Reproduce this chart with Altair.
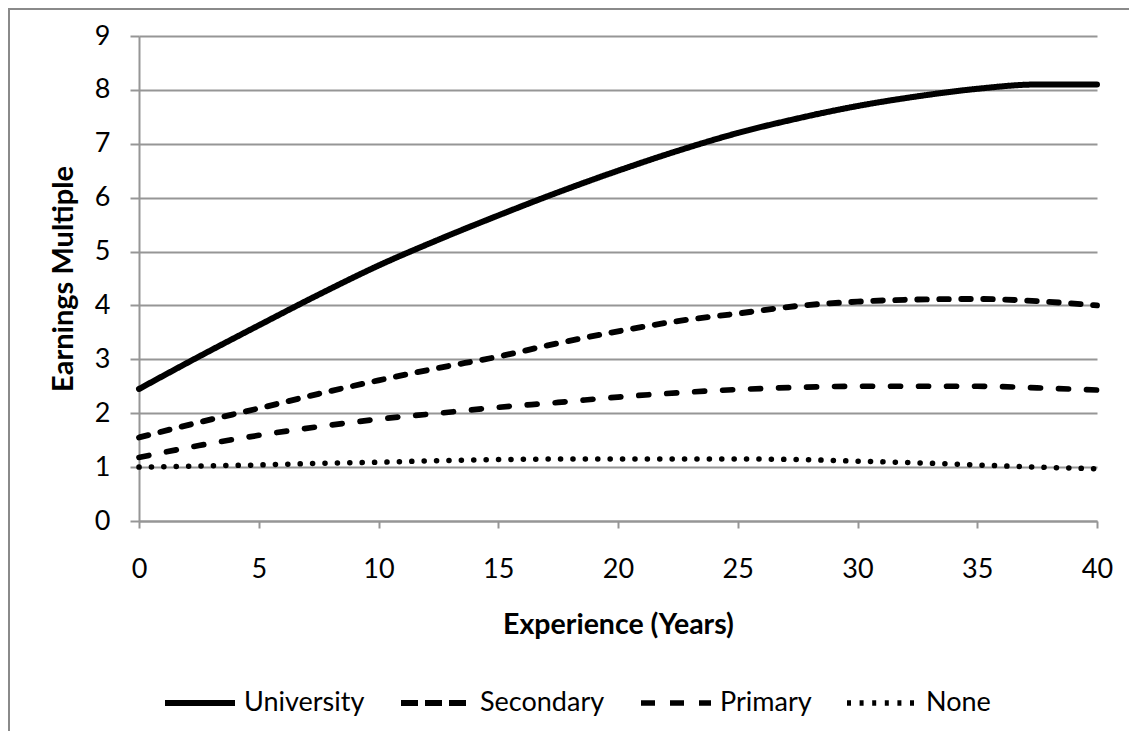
import altair as alt
import pandas as pd

years = [0, 2.5, 5, 7.5, 10, 12.5, 15, 17.5, 20, 22.5, 25, 27.5, 30, 32.5, 35, 37.5, 40]
university = [2.45, 3.05, 3.63, 4.20, 4.74, 5.22, 5.67, 6.10, 6.50, 6.87, 7.20, 7.47, 7.70, 7.88, 8.02, 8.10, 8.10]
secondary = [1.55, 1.83, 2.09, 2.36, 2.61, 2.84, 3.05, 3.30, 3.52, 3.71, 3.85, 3.99, 4.07, 4.11, 4.12, 4.08, 4.00]
primary = [1.18, 1.40, 1.59, 1.75, 1.89, 2.00, 2.11, 2.20, 2.30, 2.38, 2.44, 2.48, 2.50, 2.50, 2.50, 2.47, 2.43]
none_edu = [1.00, 1.02, 1.04, 1.07, 1.09, 1.12, 1.14, 1.15, 1.15, 1.15, 1.15, 1.14, 1.11, 1.08, 1.04, 1.00, 0.97]

series_names = ["University", "Secondary", "Primary", "None"]
series_values = [university, secondary, primary, none_edu]
x_ticks = [0, 5, 10, 15, 20, 25, 30, 35, 40]
y_ticks = [0, 1, 2, 3, 4, 5, 6, 7, 8, 9]

rows = []
for name, vals in zip(series_names, series_values):
    for x, y in zip(years, vals):
        rows.append({"Experience": x, "Multiple": y, "Education": name})
df = pd.DataFrame(rows)

FONT = "Lato"
GRID = "#969696"

# line styles (round caps on the plotted curves)
dash_range = [[1, 0], [9.5, 12.5], [10, 18], [0.1, 12.3]]
width_range = [6, 5.5, 4, 5]
# legend styles (legend symbols are drawn with butt caps)
legend_dash_range = [[1, 0], [17, 7], [14, 15], [4, 8.6]]
legend_width_range = [6, 5.5, 4, 4.5]

legend = alt.Legend(
    title=None,
    orient="none",
    direction="horizontal",
    legendX=23,
    legendY=629,
    symbolType="stroke",
    symbolSize=4900,
    symbolStrokeColor="black",
    labelFont=FONT,
    labelFontSize=27,
    labelColor="black",
    labelOffset=6,
    columnPadding=24,
    padding=0,
)

lines = alt.Chart(df).mark_line(color="black", strokeCap="round", interpolate="monotone").encode(
    x=alt.X(
        "Experience:Q",
        scale=alt.Scale(domain=[0, 40], nice=False),
        axis=alt.Axis(
            values=x_ticks,
            grid=False,
            tickSize=7,
            tickColor=GRID,
            tickWidth=2,
            domainColor=GRID,
            domainWidth=2,
            labelFont=FONT,
            labelFontSize=27,
            labelColor="black",
            labelPadding=28,
            labelFlush=False,
            title="Experience (Years)",
            titleFont=FONT,
            titleFontSize=28.5,
            titleFontWeight="bold",
            titleColor="black",
            titleY=89,
            titleBaseline="top",
        ),
    ),
    y=alt.Y(
        "Multiple:Q",
        scale=alt.Scale(domain=[0, 9], nice=False),
        axis=alt.Axis(
            values=y_ticks,
            grid=True,
            gridColor=GRID,
            gridWidth=2,
            tickSize=9,
            tickColor=GRID,
            tickWidth=2,
            domainColor=GRID,
            domainWidth=2,
            labelFont=FONT,
            labelFontSize=27,
            labelColor="black",
            labelPadding=20,
            labelFlush=False,
            title="Earnings Multiple",
            titleFont=FONT,
            titleFontSize=29,
            titleFontWeight="bold",
            titleColor="black",
            titleX=-67,
            titleBaseline="alphabetic",
        ),
    ),
    strokeDash=alt.StrokeDash(
        "Education:N",
        scale=alt.Scale(domain=series_names, range=dash_range),
        sort=series_names,
        legend=None,
    ),
    strokeWidth=alt.StrokeWidth(
        "Education:N",
        scale=alt.Scale(domain=series_names, range=width_range),
        sort=series_names,
        legend=None,
    ),
    detail="Education:N",
)

legend_layer = alt.Chart(df).transform_filter("false").mark_line(color="black").encode(
    x=alt.value(0),
    y=alt.value(0),
    strokeDash=alt.StrokeDash(
        "Education:N",
        scale=alt.Scale(domain=series_names, range=legend_dash_range),
        sort=series_names,
        legend=legend,
    ),
    strokeWidth=alt.StrokeWidth(
        "Education:N",
        scale=alt.Scale(domain=series_names, range=legend_width_range),
        sort=series_names,
        legend=legend,
    ),
)

frame_df = pd.DataFrame({"k": [0]})
frame_top = alt.Chart(frame_df).mark_rule(color="#8a8a8a", strokeWidth=2, clip=False).encode(
    x=alt.value(-131), x2=alt.value(1010), y=alt.value(-27)
)
frame_left = alt.Chart(frame_df).mark_rule(color="#8a8a8a", strokeWidth=2, clip=False).encode(
    x=alt.value(-130), y=alt.value(-28), y2=alt.value(700)
)

chart = alt.layer(lines, legend_layer, frame_top, frame_left).resolve_scale(
    strokeDash="independent", strokeWidth="independent"
).properties(
    width=958,
    height=485,
    padding={"left": 131, "top": 28, "right": 32, "bottom": 210},
    autosize=alt.AutoSizeParams(type="none"),
    background="white",
).configure_view(strokeWidth=0)

chart.save("out.html", embed_options={"renderer": "svg", "actions": False})
